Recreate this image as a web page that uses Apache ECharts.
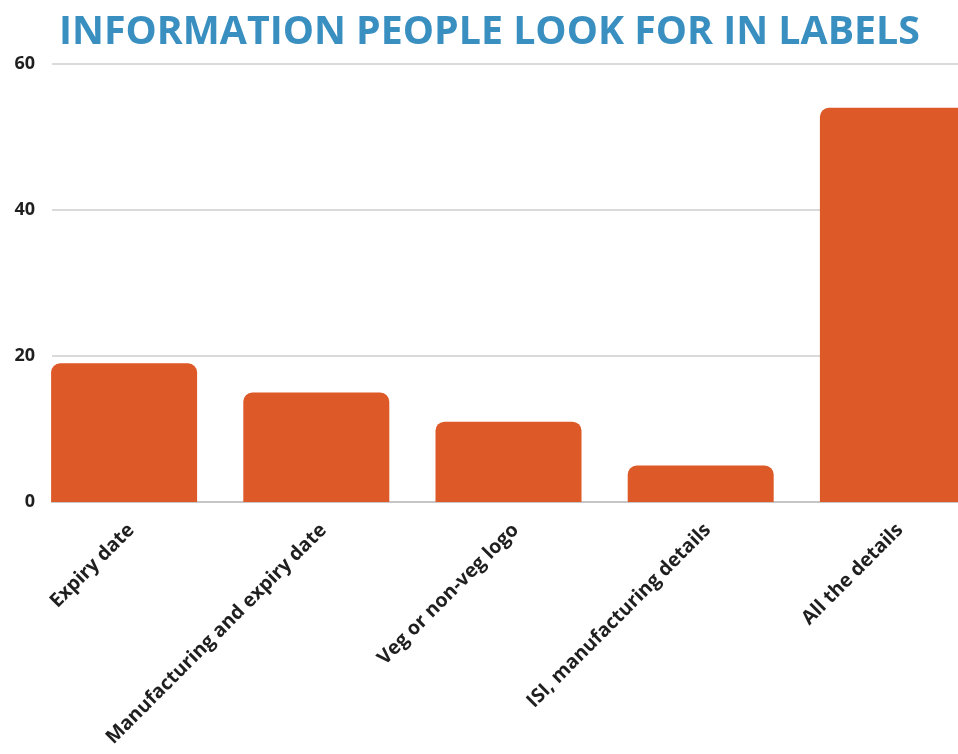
<!DOCTYPE html>
<html>
<head>
<meta charset="utf-8">
<title>Information people look for in labels</title>
<script src="https://cdn.jsdelivr.net/npm/echarts@6/dist/echarts.min.js"></script>
<style>
  html, body { margin: 0; padding: 0; background: #ffffff; }
  #chart { width: 958px; height: 754px; }
</style>
</head>
<body>
<div id="chart"></div>
<script>
// Survey answers: what information people look for on product labels
const categories = [
  'Expiry date',
  'Manufacturing and expiry date',
  'Veg or non-veg logo',
  'ISI, manufacturing details',
  'All the details'
];
const responses = [19, 15, 11, 5, 54];
const yTicks = { min: 0, max: 60, interval: 20 };

const chart = echarts.init(document.getElementById('chart'));

const plotTop = 64;
const plotHeight = 438;
const labelFont = 'Open Sans';

chart.setOption({
  animation: false,
  title: {
    text: 'INFORMATION PEOPLE LOOK FOR IN LABELS',
    left: 54,
    top: 8,
    textStyle: {
      fontFamily: labelFont,
      fontWeight: 'bold',
      fontSize: 39.3,
      color: '#3a8fc1'
    }
  },
  // grid 0 carries the value gridlines and baseline, grid 1 carries the bars
  // (the last band runs past the right edge of the canvas)
  grid: [
    { left: 52, right: 0, top: plotTop, height: plotHeight, outerBoundsMode: 'none' },
    { left: 28, width: 961, top: plotTop, height: plotHeight, outerBoundsMode: 'none' }
  ],
  xAxis: [
    {
      gridIndex: 0,
      type: 'value',
      min: 0,
      max: 1,
      axisLabel: { show: false },
      axisTick: { show: false },
      splitLine: { show: false },
      axisLine: { show: true, lineStyle: { color: '#c6c6c6', width: 2 } }
    },
    {
      gridIndex: 1,
      type: 'category',
      data: categories,
      axisLine: { show: false },
      axisTick: { show: false },
      axisLabel: {
        interval: 0,
        rotate: 45,
        margin: 18,
        verticalAlign: 'top',
        fontFamily: labelFont,
        fontWeight: 'bold',
        fontSize: 19.5,
        color: '#1f1f1f'
      }
    }
  ],
  yAxis: [
    {
      gridIndex: 0,
      type: 'value',
      min: yTicks.min,
      max: yTicks.max,
      interval: yTicks.interval,
      axisLine: { show: false },
      axisTick: { show: false },
      axisLabel: {
        margin: 17,
        fontFamily: labelFont,
        fontWeight: 'bold',
        fontSize: 18,
        color: '#1f1f1f'
      },
      splitLine: { lineStyle: { color: '#dadada', width: 2 } }
    },
    {
      gridIndex: 1,
      type: 'value',
      min: yTicks.min,
      max: yTicks.max,
      interval: yTicks.interval,
      show: false
    }
  ],
  series: [
    {
      type: 'bar',
      xAxisIndex: 1,
      yAxisIndex: 1,
      data: responses,
      barWidth: 146,
      itemStyle: {
        color: '#dd5927',
        borderRadius: [9, 9, 0, 0]
      }
    }
  ]
});
</script>
</body>
</html>
